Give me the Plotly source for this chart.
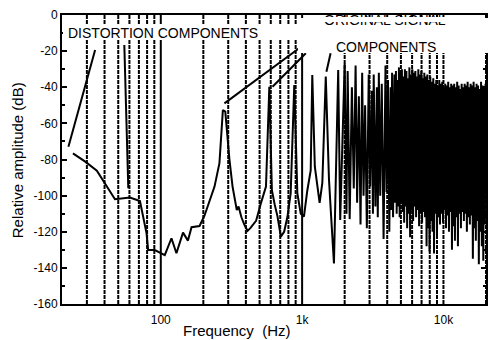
import math
import plotly.graph_objects as go

# ---------------- data ----------------
FREQ_HZ = [
    23.9, 29.2, 35.3, 40.4, 47.4, 60.5, 71.2, 79.3, 81.4, 90.7,
    106.7, 119, 129, 143.6, 155.7, 165, 173.5, 188, 204, 240,
    260, 275, 286, 306, 322, 345, 355, 372, 390, 411,
    430, 472, 512, 555, 586, 611, 640, 670, 707, 746,
    788, 830, 880, 925, 978, 1030, 1089, 1150, 1180, 1230,
    1330, 1390, 1470, 1549, 1600, 1680, 1800, 1860,
    2000, 2060, 2100, 2170, 2250, 2320, 2390, 2450, 2520, 2590,
    2660, 2720, 2790, 2870, 2960, 3030, 3110, 3170, 3210, 3300,
    3380, 3430, 3490, 3570, 3660, 3770, 3890, 3960, 4050, 4140,
    4230, 4280, 4330, 4400,
    4500, 4555, 4611, 4667, 4724, 4782, 4841, 4900, 4960, 5021,
    5082, 5144, 5207, 5271, 5336, 5401, 5467, 5534, 5602, 5670,
    5740, 5810, 5881, 5953, 6026, 6100, 6175, 6250, 6327, 6404,
    6483, 6562, 6642, 6724, 6806, 6890, 6974, 7059, 7146, 7233,
    7322, 7411, 7502, 7594, 7687, 7781, 7876, 7972, 8070, 8169,
    8269, 8370, 8472, 8576, 8681, 8787, 8895, 9003, 9114, 9225,
    9338, 9452, 9568, 9685, 9804, 9924, 10045, 10168, 10293, 10419,
    10546, 10675, 10806, 10938, 11072, 11208, 11345, 11484, 11624, 11767,
    11911, 12057, 12204, 12354, 12505, 12658, 12813, 12970, 13129, 13289,
    13452, 13617, 13783, 13952, 14123, 14296, 14471, 14648, 14827, 15009,
    15192, 15378, 15567, 15757, 15950, 16145, 16343, 16543, 16745, 16950,
    17158, 17368, 17580, 17796, 18013, 18234, 18457, 18683, 18912, 19143,
    19378, 19615, 19855,
]
REL_DB = [
    -76.6, -81.2, -86.2, -93.2, -102, -101.1, -103, -120.9, -130.1, -130.1,
    -132.9, -123.6, -131.9, -120.5, -124.9, -117.5, -117.2, -116.8, -111, -95,
    -82, -52.6, -53.5, -80, -95, -108, -106, -112, -116, -119.5,
    -118, -114, -104, -95, -39.7, -97, -105, -111.6, -122.7, -120,
    -111.6, -98.7, -38.8, -98.7, -110, -111.6, -97, -86, -33.2, -84,
    -104, -93, -34.1, -91, -110, -137.5, -30.4, -113.5,
    -27, -110, -31, -113, -40, -96, -28, -104, -45, -116,
    -32, -100, -50, -118, -33, -95, -42, -110, -33, -106,
    -40, -112, -32, -100, -38, -124, -28, -98, -36, -120,
    -40, -108, -32, -112,
    -33, -104, -31, -110, -36, -106, -29, -112, -32, -104,
    -30, -109, -34, -115, -30, -106, -31, -118, -35, -110,
    -29, -123, -33, -108, -30, -114, -32, -106, -31, -112,
    -34, -108, -30, -117, -33, -110, -31, -115, -35, -109,
    -32, -112, -34, -128, -33, -118, -36, -131, -34, -114,
    -37, -120, -35, -132, -38, -110, -36, -122, -39, -112,
    -36, -116, -38, -110, -37, -115, -40, -108, -38, -118,
    -39, -111, -37, -120, -40, -109, -38, -130, -39, -117,
    -38, -125, -40, -112, -37, -128, -39, -110, -41, -118,
    -38, -109, -40, -114, -38, -110, -39, -120, -37, -112,
    -40, -116, -38, -111, -39, -135, -37, -118, -40, -125,
    -38, -114, -39, -138, -41, -120, -37, -128, -39, -136,
    -40, -116, -38,
]

X_TICK_VALS = [100, 1000, 10000]
X_TICK_TEXT = ["100", "1k", "10k"]
Y_TICK_VALS = [-160, -140, -120, -100, -80, -60, -40, -20, 0]
Y_TICK_TEXT = ["-160", "-140", "-120", "-100", "-80", "-60", "-40", "-20", "0"]

GRID_DOTTED_HZ = [30, 40, 50, 60, 70, 80, 90,
                  200, 300, 400, 500, 600, 700, 800, 900,
                  2000, 3000, 4000, 5000, 6000, 7000, 8000, 9000,
                  10000, 20000]
GRID_SOLID_HZ = [100, 1000]

# leader lines: (f0, dB0, f1, dB1)
LEADER_LINES = [
    (22.2, -72.9, 34.3, -19.4),
    (55.2, -16.6, 58.9, -95.9),
    (282, -48.9, 952, -18.4),
    (617, -39.7, 1062, -21.2),
    (1486, -31.4, 1590, -21.2),
]

FONT = "Liberation Sans, Arial, sans-serif"

fig = go.Figure()
fig.add_trace(go.Scatter(
    x=FREQ_HZ, y=REL_DB, mode="lines",
    line=dict(color="black", width=2), hoverinfo="skip", showlegend=False,
))

shapes = []
for f in GRID_DOTTED_HZ:
    shapes.append(dict(type="line", xref="x", yref="paper", x0=f, x1=f, y0=0, y1=1,
                       line=dict(color="black", width=2, dash="4px,1px"), layer="below"))
for f in GRID_SOLID_HZ:
    shapes.append(dict(type="line", xref="x", yref="paper", x0=f, x1=f, y0=0, y1=1,
                       line=dict(color="black", width=2), layer="below"))
for f0, d0, f1, d1 in LEADER_LINES:
    shapes.append(dict(type="line", xref="x", yref="y", x0=f0, x1=f1, y0=d0, y1=d1,
                       line=dict(color="black", width=2), layer="above"))

# geometry helpers (pixel -> paper) for text placement
L, R, T, B = 62, 5, 15, 36
W, H = 493, 340
PW, PH = W - L - R, H - T - B


def px(xp):
    return (xp - L) / PW


def py(yp):
    return (H - B - yp) / PH


def mask(xc, yc, w, h):
    return dict(x=px(xc), y=py(yc), xref="paper", yref="paper", text=" ", showarrow=False,
                width=w, height=h, bgcolor="white", borderpad=0, borderwidth=0,
                font=dict(size=1), xanchor="center", yanchor="middle")


annotations = [
    mask(182, 32, 236, 16),          # band behind left label
    mask(395.5, 35.75, 191, 34.5),   # block at top right
    dict(x=px(163.5), y=py(32.5), xref="paper", yref="paper", text="DISTORTION COMPONENTS",
         showarrow=False, font=dict(family=FONT, size=14, color="black"),
         xanchor="center", yanchor="middle"),
    dict(x=px(387), y=py(20.5), xref="paper", yref="paper", text="ORIGINAL SIGNAL",
         showarrow=False, font=dict(family=FONT, size=14, color="black"),
         xanchor="center", yanchor="middle"),
    mask(387.5, 19.2, 126, 5.4),     # clips the top of "ORIGINAL SIGNAL"
    dict(x=px(388), y=py(46.7), xref="paper", yref="paper", text="COMPONENTS",
         showarrow=False, font=dict(family=FONT, size=14, color="black"),
         xanchor="center", yanchor="middle"),
    dict(x=px(237.5), y=py(330), xref="paper", yref="paper", text="Frequency  (Hz)",
         showarrow=False, font=dict(family=FONT, size=15, color="black"),
         xanchor="center", yanchor="middle"),
    dict(x=px(17), y=py(160), xref="paper", yref="paper", text="Relative amplitude (dB)",
         showarrow=False, textangle=-90, font=dict(family=FONT, size=15, color="black"),
         xanchor="center", yanchor="middle"),
]

fig.update_layout(
    width=W, height=H,
    margin=dict(l=L, r=R, t=T, b=B, pad=0),
    paper_bgcolor="white", plot_bgcolor="white",
    font=dict(family=FONT, size=12, color="black"),
    shapes=shapes, annotations=annotations,
    showlegend=False,
)
fig.update_xaxes(
    type="log", range=[math.log10(20), math.log10(20000)],
    showline=True, linecolor="black", linewidth=2, mirror=True,
    showgrid=False, zeroline=False, ticks="",
    tickmode="array", tickvals=X_TICK_VALS, ticktext=X_TICK_TEXT,
    tickfont=dict(family=FONT, size=12, color="black"),
    ticklabelstandoff=4,
)
fig.update_yaxes(
    range=[-160, 0],
    showline=True, linecolor="black", linewidth=2, mirror="ticks",
    showgrid=False, zeroline=False,
    ticks="inside", ticklen=5, tickwidth=1.5, tickcolor="black",
    tickmode="array", tickvals=Y_TICK_VALS, ticktext=Y_TICK_TEXT,
    minor=dict(ticks="inside", ticklen=3, dtick=10, tickcolor="black", showgrid=False),
    tickfont=dict(family=FONT, size=12, color="black"),
)

fig.write_html("out.html")
